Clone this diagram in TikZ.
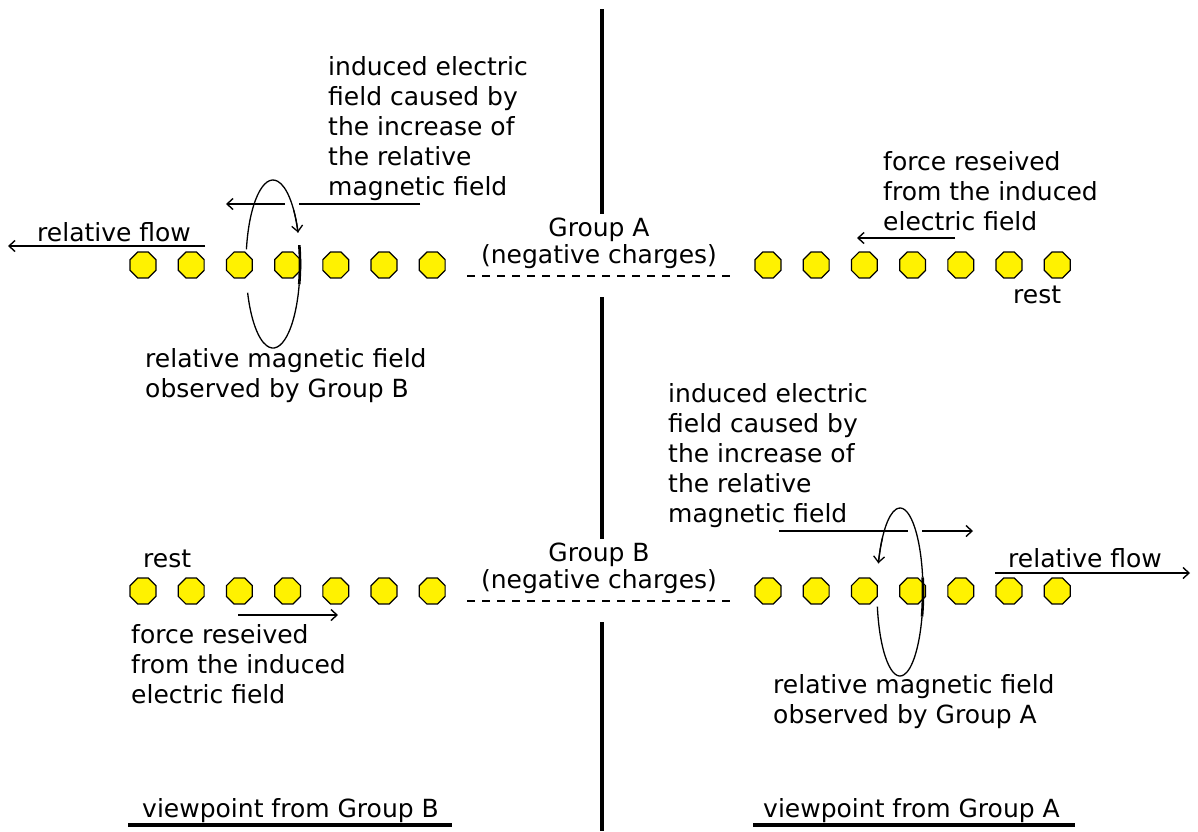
\documentclass[tikz,border=0pt]{standalone}
\usepackage{fontspec}
\setmainfont{DejaVu Sans}
\usetikzlibrary{arrows.meta}
\usetikzlibrary{shapes.geometric}

\begin{document}
\begin{tikzpicture}[x=1pt,y=-1pt,
    charge/.style={regular polygon,regular polygon sides=8,minimum size=28pt,inner sep=0pt,draw=black,line width=1.2pt,fill=yellow},
    lbl/.style={anchor=base west,inner sep=0pt,align=left,font=\fontsize{25}{30}\selectfont},
    grp/.style={anchor=base,inner sep=0pt,align=center,font=\fontsize{25}{27}\selectfont},
    arrowline/.style={line width=1.4pt,-{Straight Barb[length=6pt,width=11pt]}},
    fieldline/.style={line width=1.3pt},
    ]
        \useasboundingbox (0,0) rectangle (1198,831);

        % divider
        \draw[line width=3.5pt] (602,9) coordinate (d1) -- (602,214) coordinate (d2);
        \draw[line width=3.5pt] (602,297) coordinate (d3) -- (602,539) coordinate (d4);
        \draw[line width=3.5pt] (602,622) coordinate (d5) -- (602,831) coordinate (d6);

        % groups (anchor is the baseline of the last line)
        \draw[line width=1.3pt,dash pattern=on 8pt off 7pt] (467,276) coordinate (ga1) -- (732,276) coordinate (ga2);
        \draw[line width=1.3pt,dash pattern=on 8pt off 7pt] (467,601) coordinate (gb1) -- (732,601) coordinate (gb2);
        \node[grp] (grpA) at (599,263) {Group A\\(negative charges)};
        \node[grp] (grpB) at (599,588) {Group B\\(negative charges)};

        % top left: moving charges and their field
        \draw[fieldline] (273,264) ++(170:27pt and 84pt) arc[start angle=170,end angle=22,x radius=27pt,y radius=84pt];
        \draw[fieldline,-{Straight Barb[length=6pt,width=11pt]}] (273,264) ++(40:27pt and 84pt) arc[start angle=40,end angle=22,x radius=27pt,y radius=84pt];
        \foreach \i in {0,...,6}
            \node[charge] (a\i) at (143+48.2*\i,265) {};
        \draw[fieldline] (273,264) ++(-14:27pt and 84pt) arc[start angle=-14,end angle=-160,x radius=27pt,y radius=84pt];
        \draw[line width=2.6pt] (273,264) ++(13:27pt and 84pt) arc[start angle=13,end angle=-14,x radius=27pt,y radius=84pt];

        \draw[arrowline] (205,246) coordinate (fa1) -- (8,246) coordinate (fa2);
        \draw[line width=1.4pt] (420,204) coordinate (ea1) -- (299,204) coordinate (ea2);
        \draw[arrowline] (285,204) coordinate (ea3) -- (226,204) coordinate (ea4);
        \node[lbl] (flowA) at (37,241) {relative flow};
        \node[lbl] (indA) at (328,195) {induced electric\\field caused by\\the increase of\\the relative\\magnetic field};
        \node[lbl] (magA) at (145,397) {relative magnetic field\\observed by Group B};

        % top right: charges at rest
        \foreach \i in {0,...,6}
            \node[charge] (b\i) at (768+48.2*\i,265) {};
        \draw[arrowline] (955,238) coordinate (fb1) -- (857,238) coordinate (fb2);
        \node[lbl] (forceA) at (883,230) {force reseived\\from the induced\\electric field};
        \node[lbl] (restA) at (1013,303) {rest};

        % bottom left: charges at rest
        \foreach \i in {0,...,6}
            \node[charge] (c\i) at (143+48.2*\i,591) {};
        \draw[arrowline] (238,615) coordinate (fc1) -- (338,615) coordinate (fc2);
        \node[lbl] (restB) at (143,567) {rest};
        \node[lbl] (forceB) at (131,703) {force reseived\\from the induced\\electric field};

        % bottom right: moving charges and their field
        \draw[fieldline] (900,592) ++(10:23pt and 84pt) arc[start angle=10,end angle=160,x radius=23pt,y radius=84pt];
        \draw[fieldline,-{Straight Barb[length=6pt,width=11pt]}] (900,592) ++(140:23pt and 84pt) arc[start angle=140,end angle=160,x radius=23pt,y radius=84pt];
        \foreach \i in {0,...,6}
            \node[charge] (e\i) at (768+48.2*\i,591) {};
        \draw[fieldline] (900,592) ++(-170:23pt and 84pt) arc[start angle=-170,end angle=-17,x radius=23pt,y radius=84pt];
        \draw[line width=2.6pt] (900,592) ++(10:23pt and 84pt) arc[start angle=10,end angle=-17,x radius=23pt,y radius=84pt];

        \draw[arrowline] (995,573) coordinate (fe1) -- (1190,573) coordinate (fe2);
        \draw[line width=1.4pt] (779,531) coordinate (ee1) -- (908,531) coordinate (ee2);
        \draw[arrowline] (922,531) coordinate (ee3) -- (973,531) coordinate (ee4);
        \node[lbl] (flowB) at (1008,567) {relative flow};
        \node[lbl] (indB) at (668,522) {induced electric\\field caused by\\the increase of\\the relative\\magnetic field};
        \node[lbl] (magB) at (773,723) {relative magnetic field\\observed by Group A};

        % viewpoints
        \node[lbl] (viewB) at (142,817) {viewpoint from Group B};
        \node[lbl] (viewA) at (763,817) {viewpoint from Group A};
        \draw[line width=3.5pt] (128,825) coordinate (ub1) -- (452,825) coordinate (ub2);
        \draw[line width=3.5pt] (753,825) coordinate (ua1) -- (1075,825) coordinate (ua2);
\end{tikzpicture}
\end{document}
